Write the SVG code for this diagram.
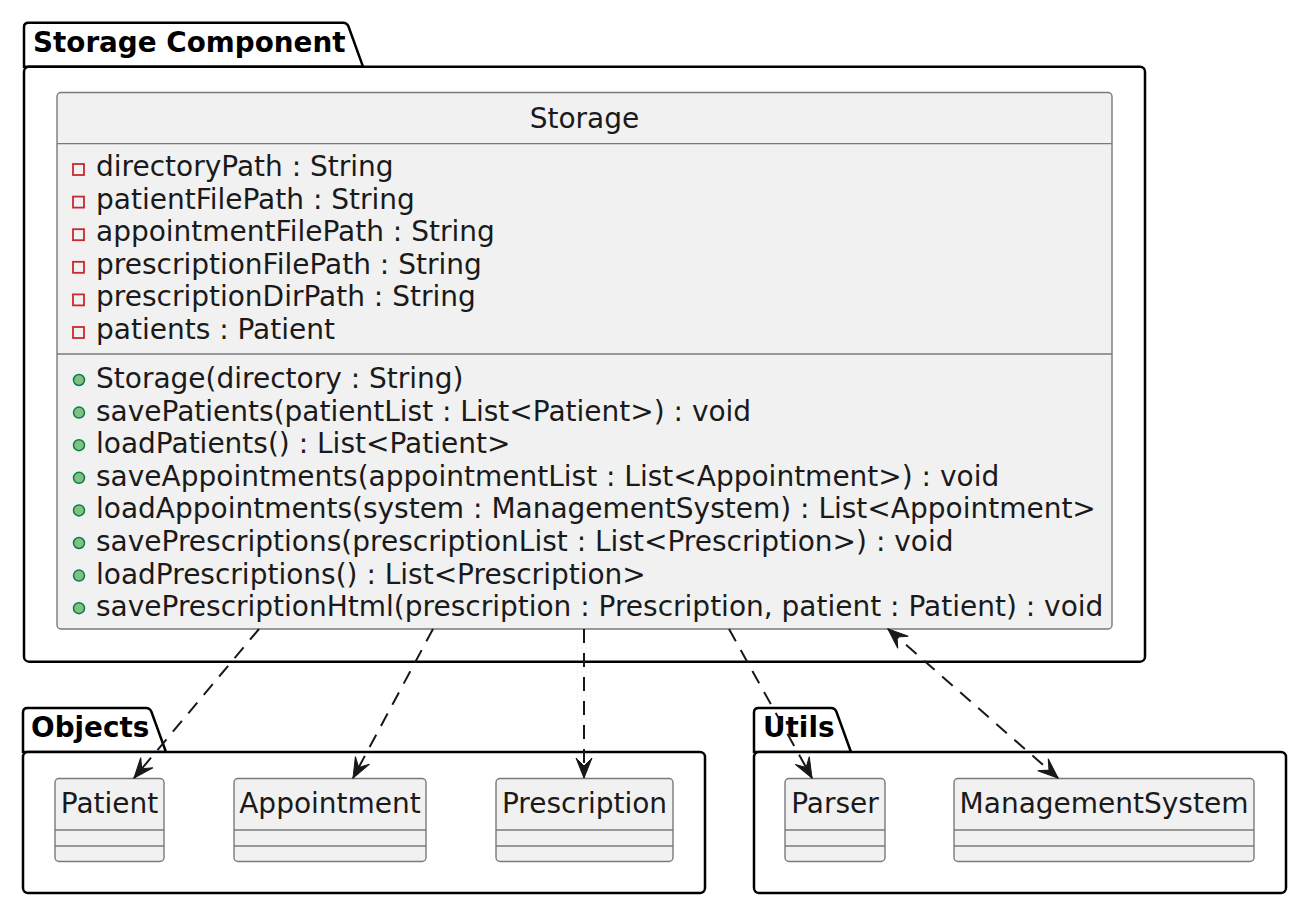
<svg xmlns="http://www.w3.org/2000/svg" width="1314" height="922" viewBox="0 0 1314 922">
<style>
.pkgshape{fill:#FFFFFF;stroke:#000000;stroke-width:2.5}
.pkgt{font-family:"DejaVu Sans",sans-serif;font-weight:bold;font-size:27.8px;fill:#000000}
.cls{fill:#F1F1F1;stroke:#7A7A7A;stroke-width:1.4}
.div{stroke:#7A7A7A;stroke-width:1.4}
.cn{font-family:"DejaVu Sans",sans-serif;font-size:28px;fill:#1A1A1A;text-anchor:middle}
.mb{font-family:"DejaVu Sans",sans-serif;font-size:28px;fill:#1A1A1A}
.priv{fill:none;stroke:#C82930;stroke-width:1.8}
.pub{fill:#84BE84;stroke:#038048;stroke-width:1.5}
.dep{fill:none;stroke:#181818;stroke-width:2;stroke-dasharray:14,10}
</style>
<defs>
<marker id="ah" viewBox="-22 -10 24 20" refX="0" refY="0" markerWidth="24" markerHeight="20" markerUnits="userSpaceOnUse" orient="auto-start-reverse">
<path d="M0,0 L-20,-8 L-12,0 L-20,8 Z" fill="#181818" stroke="#181818" stroke-width="1"/>
</marker>
</defs>

<g id="pkg-storage-component">
<path class="pkgshape" d="M24,66.7 L24,27 Q24,22.7 28.5,22.7 L343,22.7 Q347,22.7 348.5,26.5 L363,66.7 Z"/>
<rect class="pkgshape" x="24" y="66.7" width="1121" height="595" rx="5" ry="5"/>
<text class="pkgt" x="33" y="52">Storage Component</text>
</g>

<g id="pkg-objects">
<path class="pkgshape" d="M23,752 L23,712.5 Q23,708 27.5,708 L146,708 Q150,708 151.5,712 L166,752 Z"/>
<rect class="pkgshape" x="23" y="752" width="682" height="141" rx="5" ry="5"/>
<text class="pkgt" x="31" y="737">Objects</text>
</g>

<g id="pkg-utils">
<path class="pkgshape" d="M754,752 L754,712.5 Q754,708 758.5,708 L831,708 Q835,708 836.5,712 L851,752 Z"/>
<rect class="pkgshape" x="754" y="752" width="532" height="141" rx="5" ry="5"/>
<text class="pkgt" x="763" y="737">Utils</text>
</g>

<g id="node-storage">
<rect class="cls" x="57" y="92.5" width="1055" height="536.5" rx="4" ry="4"/>
<text class="cn" x="584.5" y="128">Storage</text>
<line class="div" x1="57" y1="143.6" x2="1112" y2="143.6"/>
<rect class="priv" x="73" y="164" width="11" height="11"/>
<text class="mb" x="96" y="176">directoryPath : String</text>
<rect class="priv" x="73" y="196.6" width="11" height="11"/>
<text class="mb" x="96" y="208.6">patientFilePath : String</text>
<rect class="priv" x="73" y="229.2" width="11" height="11"/>
<text class="mb" x="96" y="241.2">appointmentFilePath : String</text>
<rect class="priv" x="73" y="261.8" width="11" height="11"/>
<text class="mb" x="96" y="273.8">prescriptionFilePath : String</text>
<rect class="priv" x="73" y="294.4" width="11" height="11"/>
<text class="mb" x="96" y="306.4">prescriptionDirPath : String</text>
<rect class="priv" x="73" y="327" width="11" height="11"/>
<text class="mb" x="96" y="339">patients : Patient</text>
<line class="div" x1="57" y1="354" x2="1112" y2="354"/>
<circle class="pub" cx="79" cy="380" r="5.5"/>
<text class="mb" x="96" y="388">Storage(directory : String)</text>
<circle class="pub" cx="79" cy="412.6" r="5.5"/>
<text class="mb" x="96" y="420.6">savePatients(patientList : List&lt;Patient&gt;) : void</text>
<circle class="pub" cx="79" cy="445.2" r="5.5"/>
<text class="mb" x="96" y="453.2">loadPatients() : List&lt;Patient&gt;</text>
<circle class="pub" cx="79" cy="477.8" r="5.5"/>
<text class="mb" x="96" y="485.8">saveAppointments(appointmentList : List&lt;Appointment&gt;) : void</text>
<circle class="pub" cx="79" cy="510.4" r="5.5"/>
<text class="mb" x="96" y="518.4">loadAppointments(system : ManagementSystem) : List&lt;Appointment&gt;</text>
<circle class="pub" cx="79" cy="543" r="5.5"/>
<text class="mb" x="96" y="551">savePrescriptions(prescriptionList : List&lt;Prescription&gt;) : void</text>
<circle class="pub" cx="79" cy="575.6" r="5.5"/>
<text class="mb" x="96" y="583.6">loadPrescriptions() : List&lt;Prescription&gt;</text>
<circle class="pub" cx="79" cy="608.2" r="5.5"/>
<text class="mb" x="96" y="616.2">savePrescriptionHtml(prescription : Prescription, patient : Patient) : void</text>
</g>

<g id="node-patient">
<rect class="cls" x="55" y="778.5" width="109" height="83" rx="4" ry="4"/>
<text class="cn" x="109.5" y="813">Patient</text>
<line class="div" x1="55" y1="830" x2="164" y2="830"/>
<line class="div" x1="55" y1="846" x2="164" y2="846"/>
</g>

<g id="node-appointment">
<rect class="cls" x="234" y="778.5" width="192" height="83" rx="4" ry="4"/>
<text class="cn" x="330" y="813">Appointment</text>
<line class="div" x1="234" y1="830" x2="426" y2="830"/>
<line class="div" x1="234" y1="846" x2="426" y2="846"/>
</g>

<g id="node-prescription">
<rect class="cls" x="496" y="778.5" width="177" height="83" rx="4" ry="4"/>
<text class="cn" x="584.5" y="813">Prescription</text>
<line class="div" x1="496" y1="830" x2="673" y2="830"/>
<line class="div" x1="496" y1="846" x2="673" y2="846"/>
</g>

<g id="node-parser">
<rect class="cls" x="785" y="778.5" width="100" height="83" rx="4" ry="4"/>
<text class="cn" x="835" y="813">Parser</text>
<line class="div" x1="785" y1="830" x2="885" y2="830"/>
<line class="div" x1="785" y1="846" x2="885" y2="846"/>
</g>

<g id="node-managementsystem">
<rect class="cls" x="954" y="778.5" width="300" height="83" rx="4" ry="4"/>
<text class="cn" x="1104" y="813">ManagementSystem</text>
<line class="div" x1="954" y1="830" x2="1254" y2="830"/>
<line class="div" x1="954" y1="846" x2="1254" y2="846"/>
</g>

<g id="connectors">
<line class="dep" x1="259" y1="629" x2="134" y2="778" marker-end="url(#ah)"/>
<line class="dep" x1="433" y1="629" x2="353" y2="778" marker-end="url(#ah)"/>
<line class="dep" x1="584" y1="629" x2="584" y2="778" marker-end="url(#ah)"/>
<line class="dep" x1="729" y1="629" x2="812" y2="778" marker-end="url(#ah)"/>
<line class="dep" x1="888" y1="629" x2="1058" y2="778" marker-start="url(#ah)" marker-end="url(#ah)"/>
</g>
</svg>
